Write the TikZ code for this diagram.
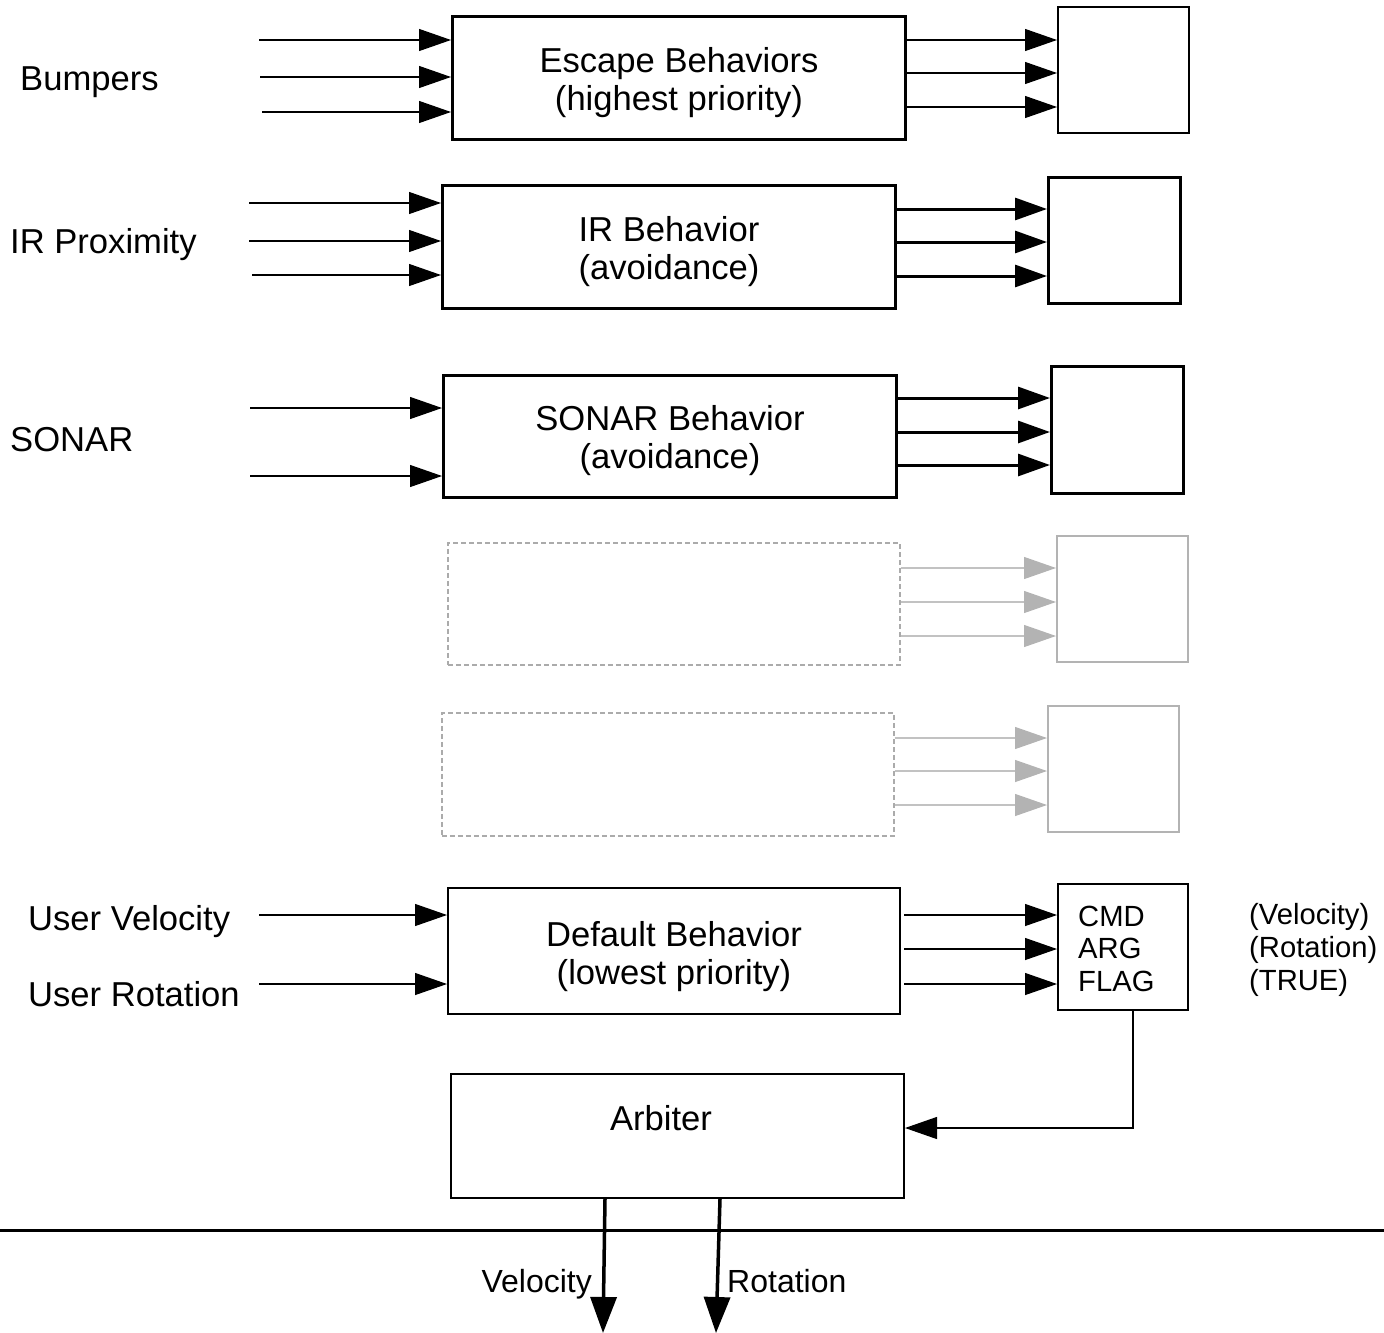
\documentclass[tikz,border=0pt]{standalone}
\usepackage{fontspec}
\setmainfont{Liberation Sans}
\usetikzlibrary{arrows.meta}
\definecolor{lgray}{HTML}{B3B3B3}
\definecolor{dgray}{HTML}{ABABAB}
\begin{document}
\begin{tikzpicture}[x=1pt,y=-1pt,
  bigfont/.style={font=\fontsize{34.6}{38}\selectfont},
  smallfont/.style={font=\fontsize{29.2}{32.5}\selectfont},
  behbox/.style={draw, anchor=north west, minimum width=453pt, minimum height=123pt, inner sep=0pt},
  boxtext/.style={align=center, inner sep=0pt, bigfont},
  outbox/.style={draw, anchor=north west, minimum width=131pt, minimum height=126pt, inner sep=0pt},
  ghostbox/.style={behbox, draw=dgray, dashed, line width=1.5pt, dash pattern=on 5pt off 3pt},
  ghostout/.style={outbox, draw=lgray, line width=2pt},
  thinarrow/.style={line width=1.2pt, -{Triangle[length=32pt,width=22pt]}},
  thickarrow/.style={line width=3pt, -{Triangle[length=32pt,width=22pt]}},
  grayarrow/.style={draw=lgray!80, line width=1.2pt, -{Triangle[length=32pt,width=22pt,fill=lgray,color=lgray]}},
  lab/.style={anchor=base west, inner sep=0pt, bigfont}
]
\useasboundingbox (0,0) rectangle (1384,1333);

% --- Escape behaviors ---
\node[behbox, line width=3pt] (b1) at (451,15) {};
\node[boxtext] (t1) at ([yshift=-5pt]b1.center) {Escape Behaviors\\(highest priority)};
\node[outbox, line width=2pt] (o1) at (1057,6) {};
\node[lab] (l1) at (20,90) {Bumpers};
\coordinate (i1a) at (259,40);
\coordinate (i1b) at (260,77);
\coordinate (i1c) at (262,112);
\draw[thinarrow] (i1a) -- (b1.west |- i1a);
\draw[thinarrow] (i1b) -- (b1.west |- i1b);
\draw[thinarrow] (i1c) -- (b1.west |- i1c);
\draw[thinarrow] (b1.east |- 0,40) -- (o1.west |- 0,40);
\draw[thinarrow] (b1.east |- 0,73) -- (o1.west |- 0,73);
\draw[thinarrow] (b1.east |- 0,107) -- (o1.west |- 0,107);

% --- IR behavior ---
\node[behbox, line width=3pt] (b2) at (441,184) {};
\node[boxtext] (t2) at ([yshift=-5pt]b2.center) {IR Behavior\\(avoidance)};
\node[outbox, line width=3pt, minimum width=132pt] (o2) at (1047,176) {};
\node[lab] (l2) at (10,253) {IR Proximity};
\coordinate (i2a) at (249,203);
\coordinate (i2b) at (249,241);
\coordinate (i2c) at (252,275);
\draw[thinarrow] (i2a) -- (b2.west |- i2a);
\draw[thinarrow] (i2b) -- (b2.west |- i2b);
\draw[thinarrow] (i2c) -- (b2.west |- i2c);
\draw[thickarrow] (b2.east |- 0,209) -- (o2.west |- 0,209);
\draw[thickarrow] (b2.east |- 0,242) -- (o2.west |- 0,242);
\draw[thickarrow] (b2.east |- 0,276) -- (o2.west |- 0,276);

% --- SONAR behavior ---
\node[behbox, line width=3pt, minimum height=122pt] (b3) at (442,374) {};
\node[boxtext] (t3) at ([yshift=-4pt]b3.center) {SONAR Behavior\\(avoidance)};
\node[outbox, line width=3pt, minimum width=132pt, minimum height=127pt] (o3) at (1050,365) {};
\node[lab] (l3) at (10,451) {SONAR};
\coordinate (i3a) at (250,408);
\coordinate (i3b) at (250,476);
\draw[thinarrow] (i3a) -- (b3.west |- i3a);
\draw[thinarrow] (i3b) -- (b3.west |- i3b);
\draw[thickarrow] (898,398) -- (o3.west |- 0,398);
\draw[thickarrow] (898,432) -- (o3.west |- 0,432);
\draw[thickarrow] (898,465) -- (o3.west |- 0,465);

% --- ghost behaviors ---
\node[ghostbox, minimum width=452pt, minimum height=122pt] (b4) at (447,542) {};
\node[ghostout] (o4) at (1056,535) {};
\draw[grayarrow] (b4.east |- 0,568) -- (o4.west |- 0,568);
\draw[grayarrow] (b4.east |- 0,602) -- (o4.west |- 0,602);
\draw[grayarrow] (b4.east |- 0,636) -- (o4.west |- 0,636);

\node[ghostbox, minimum width=452pt] (b5) at (441,712) {};
\node[ghostout] (o5) at (1047,705) {};
\draw[grayarrow] (b5.east |- 0,738) -- (o5.west |- 0,738);
\draw[grayarrow] (b5.east |- 0,771) -- (o5.west |- 0,771);
\draw[grayarrow] (b5.east |- 0,805) -- (o5.west |- 0,805);

% --- Default behavior ---
\node[behbox, line width=2pt, minimum width=452pt, minimum height=126pt] (b6) at (447,887) {};
\node[boxtext] (t6) at ([yshift=-6pt]b6.center) {Default Behavior\\(lowest priority)};
\node[outbox, line width=2pt, minimum width=130pt] (o6) at (1057,883) {};
\node[anchor=base west, inner sep=0pt, smallfont] (cmd) at (1078,926) {CMD};
\node[anchor=base west, inner sep=0pt, smallfont] (arg) at (1078,958) {ARG};
\node[anchor=base west, inner sep=0pt, smallfont] (flag) at (1078,991) {FLAG};
\node[anchor=base west, inner sep=0pt, smallfont] (vv) at (1249,924) {(Velocity)};
\node[anchor=base west, inner sep=0pt, smallfont] (vr) at (1249,957) {(Rotation)};
\node[anchor=base west, inner sep=0pt, smallfont] (vt) at (1249,990) {(TRUE)};
\node[lab] (l6a) at (28,930) {User Velocity};
\node[lab] (l6b) at (28,1006) {User Rotation};
\coordinate (i6a) at (259,915);
\coordinate (i6b) at (259,984);
\draw[thinarrow] (i6a) -- (b6.west |- i6a);
\draw[thinarrow] (i6b) -- (b6.west |- i6b);
\draw[thinarrow] (904,915) -- (o6.west |- 0,915);
\draw[thinarrow] (904,949) -- (o6.west |- 0,949);
\draw[thinarrow] (904,984) -- (o6.west |- 0,984);

% --- Arbiter ---
\node[draw, line width=2pt, anchor=north west, minimum width=453pt, minimum height=124pt, inner sep=0pt] (arb) at (450,1073) {};
\node[anchor=base, inner sep=0pt, bigfont] (arbt) at (661,1130) {Arbiter};
\draw[thinarrow] (o6.south -| 1133,0) -- (1133,1128) -- (arb.east |- 0,1128);

% --- bottom ---
\coordinate (hl) at (0,1230);
\coordinate (hr) at (1384,1230);
\draw[line width=3pt] (hl) -- (hr);
\coordinate (vin) at (arb.south -| 605,0);
\coordinate (rin) at (arb.south -| 720,0);
\coordinate (vout) at (603,1333);
\coordinate (rout) at (716,1333);
\draw[line width=3.5pt, -{Triangle[length=36pt,width=26pt]}] (vin) -- (vout);
\draw[line width=3.5pt, -{Triangle[length=36pt,width=26pt]}] (rin) -- (rout);
\node[anchor=base east, inner sep=0pt, font=\fontsize{32}{36}\selectfont] (lv) at (592,1292) {Velocity};
\node[anchor=base west, inner sep=0pt, font=\fontsize{32}{36}\selectfont] (lr) at (727,1292) {Rotation};
\end{tikzpicture}
\end{document}
